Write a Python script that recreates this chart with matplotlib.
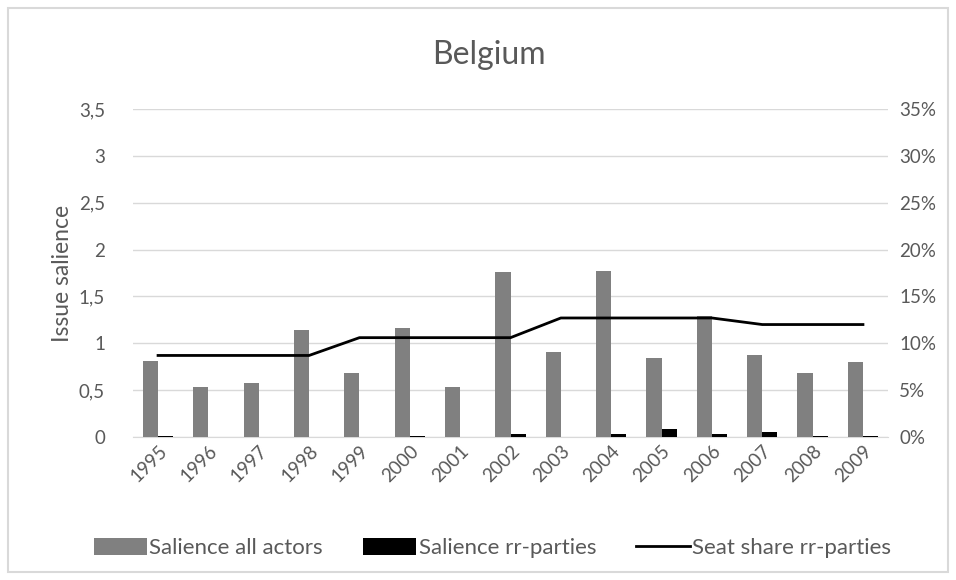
import matplotlib.pyplot as plt
import numpy as np
from matplotlib.patches import Patch, Rectangle
from matplotlib.lines import Line2D

plt.rcParams['font.family'] = ['Lato', 'DejaVu Sans']

years = [str(y) for y in range(1995, 2010)]
salience_all = [0.81, 0.53, 0.58, 1.14, 0.68, 1.16, 0.53, 1.76, 0.91, 1.77,
                0.84, 1.29, 0.88, 0.68, 0.80]
salience_rr = [0.01, 0.0, 0.0, 0.0, 0.0, 0.01, 0.0, 0.03, 0.0, 0.03,
               0.085, 0.03, 0.05, 0.01, 0.01]
seat_share = [8.7, 8.7, 8.7, 8.7, 10.6, 10.6, 10.6, 10.6, 12.7, 12.7,
              12.7, 12.7, 12.0, 12.0, 12.0]

left_ticks = [0, 0.5, 1, 1.5, 2, 2.5, 3, 3.5]
left_labels = ['0', '0,5', '1', '1,5', '2', '2,5', '3', '3,5']
right_ticks = [0, 5, 10, 15, 20, 25, 30, 35]
right_labels = ['0%', '5%', '10%', '15%', '20%', '25%', '30%', '35%']

txt = '#595959'
grid = '#d9d9d9'
fs = 13.5

fig = plt.figure(figsize=(9.56, 5.8), dpi=100)
fig.patches.append(Rectangle((8 / 956, 8 / 580), 940 / 956, 564 / 580,
                             transform=fig.transFigure, fill=False,
                             edgecolor='#d9d9d9', linewidth=1.5))

ax = fig.add_axes([0.139, 0.2466, 0.79, 0.5654])
x = np.arange(len(years))
w = 0.3
ax.bar(x - w / 2, salience_all, w, color='#808080', zorder=3)
ax.bar(x + w / 2, salience_rr, w, color='#000000', zorder=3)
ax.set_xlim(-0.5, len(years) - 0.5)
ax.set_ylim(0, 3.5)
ax.set_yticks(left_ticks)
ax.set_yticklabels(left_labels)
ax.yaxis.grid(True, color=grid, linewidth=1, zorder=0)
ax.set_axisbelow(True)
for s in ['top', 'right', 'left']:
    ax.spines[s].set_visible(False)
ax.spines['bottom'].set_color(grid)
ax.tick_params(axis='y', length=0, colors=txt, labelsize=fs, pad=20)
ax.tick_params(axis='x', length=0, colors=txt, labelsize=fs, pad=4)
ax.set_xticks(x)
ax.set_xticklabels(years, rotation=45, ha='right', rotation_mode='anchor')
ax.set_ylabel('Issue salience', color=txt, fontsize=16.5, labelpad=4)

ax2 = ax.twinx()
ax2.plot(x, seat_share, color='black', linewidth=2, zorder=4)
ax2.set_ylim(0, 35)
ax2.set_yticks(right_ticks)
ax2.set_yticklabels(right_labels)
ax2.tick_params(axis='y', length=0, colors=txt, labelsize=fs, pad=8)
for s in ['top', 'right', 'left', 'bottom']:
    ax2.spines[s].set_visible(False)

fig.text(0.511, 0.905, 'Belgium', ha='center', va='center', color=txt, fontsize=23)

handles = [Patch(facecolor='#808080'), Patch(facecolor='#000000'),
           Line2D([0], [0], color='black', linewidth=2)]
labels = ['Salience all actors', 'Salience rr-parties', 'Seat share rr-parties']
leg = fig.legend(handles, labels, loc='center', bbox_to_anchor=(0.515, 0.055),
                 ncol=3, frameon=False, fontsize=16, handlelength=2.4,
                 handleheight=0.8, handletextpad=0.1, columnspacing=1.8)
for t in leg.get_texts():
    t.set_color(txt)

fig.savefig('out.png', dpi=100)
